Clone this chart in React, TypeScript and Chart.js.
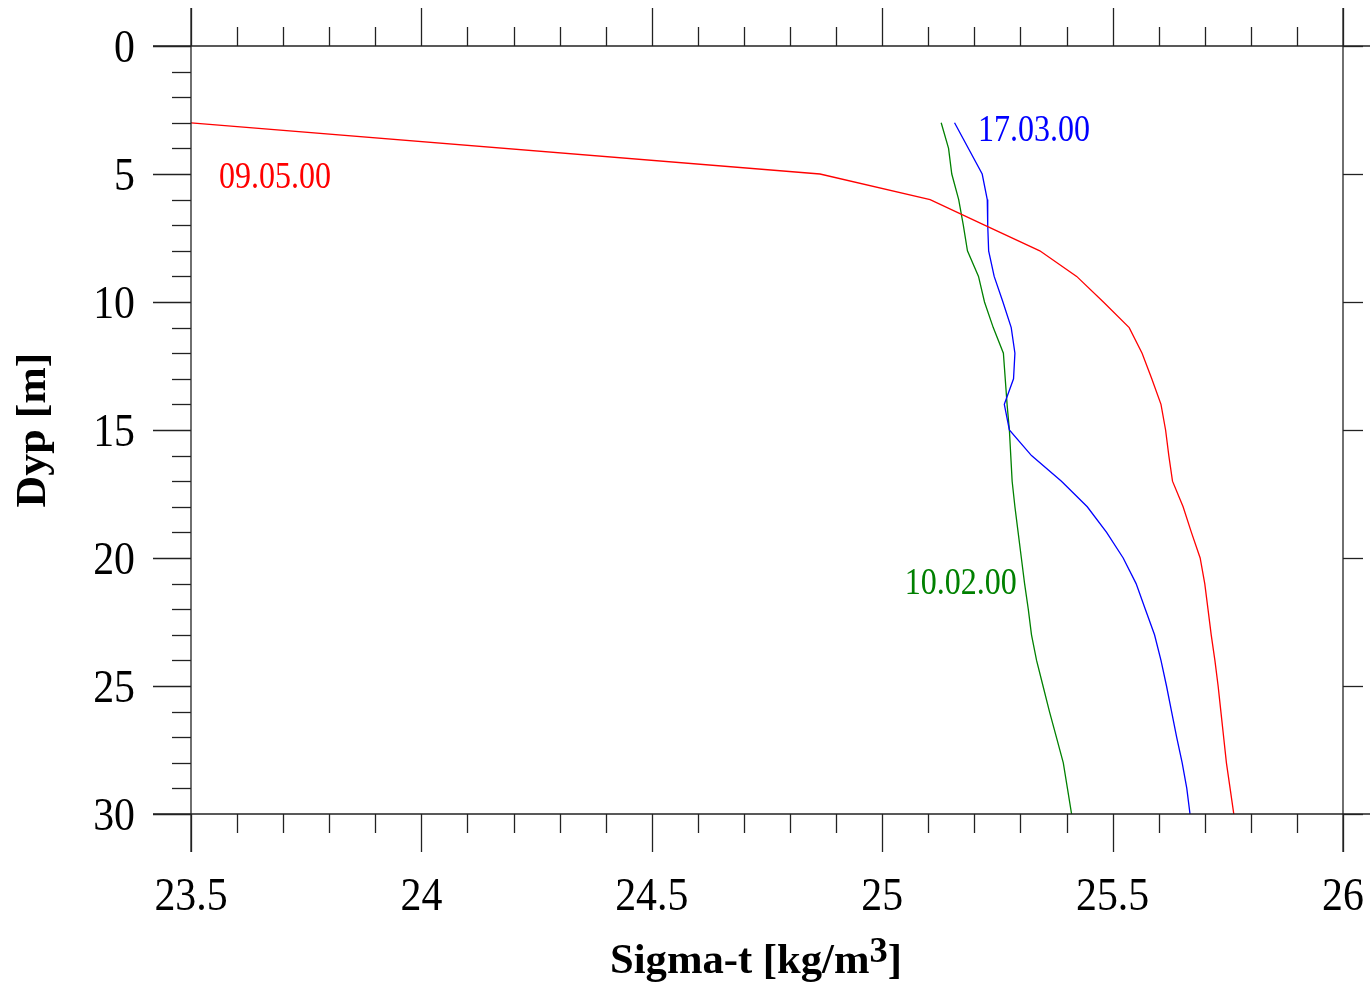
import React, { useEffect, useRef } from "react";
import { Chart, registerables } from "chart.js";

Chart.register(...registerables);

// ---- data ----
const redDepth = [3, 5, 6, 7, 8, 9, 10, 11, 12, 13, 14, 15, 16, 17, 18, 19, 20, 21, 22, 23, 24, 25, 26, 27, 28, 29, 30];
const redSigma = [23.5, 24.865, 25.104, 25.222, 25.342, 25.422, 25.48, 25.536, 25.564, 25.585, 25.605, 25.615, 25.622, 25.63, 25.653, 25.671, 25.69, 25.7, 25.707, 25.714, 25.722, 25.729, 25.735, 25.741, 25.747, 25.755, 25.763];

const blueDepth = [3, 5, 6, 7, 8, 9, 10, 11, 12, 13, 14, 15, 16, 17, 18, 19, 20, 21, 22, 23, 24, 25, 26, 27, 28, 29, 30];
const blueSigma = [25.157, 25.217, 25.228, 25.229, 25.231, 25.243, 25.262, 25.28, 25.288, 25.285, 25.265, 25.276, 25.324, 25.389, 25.445, 25.487, 25.523, 25.551, 25.571, 25.591, 25.605, 25.617, 25.628, 25.639, 25.651, 25.661, 25.668];

const greenDepth = [3, 4, 5, 6, 7, 8, 9, 10, 11, 12, 13, 14, 15, 16, 17, 18, 19, 20, 21, 22, 23, 24, 25, 26, 27, 28, 29, 30];
const greenSigma = [25.128, 25.144, 25.151, 25.166, 25.176, 25.185, 25.209, 25.222, 25.241, 25.263, 25.267, 25.271, 25.276, 25.279, 25.282, 25.288, 25.295, 25.302, 25.309, 25.317, 25.324, 25.335, 25.349, 25.363, 25.378, 25.393, 25.402, 25.411];

const seriesNames = ["09.05.00", "17.03.00", "10.02.00"];
const seriesColors = ["#ff0000", "#0000ff", "#008000"];
// label anchors (sigma, depth) for left/baseline of each series label
const labelSigma = [23.561, 25.208, 25.049];
const labelDepth = [5.55, 3.71, 21.41];

const xMajorTicks = [23.5, 24, 24.5, 25, 25.5, 26];
const xTickLabels = ["23.5", "24", "24.5", "25", "25.5", "26"];
const xMinorStep = 0.1;
const yMajorTicks = [0, 5, 10, 15, 20, 25, 30];
const yTickLabels = ["0", "5", "10", "15", "20", "25", "30"];
const yMinorStep = 1;

const xTitleMain = "Sigma-t [kg/m";
const xTitleSup = "3";
const xTitleEnd = "]";
const yTitle = "Dyp [m]";

const FONT = "'Liberation Serif', 'DejaVu Serif', serif";

function toPoints(xs: number[], ys: number[]) {
  return xs.map((x, i) => ({ x, y: ys[i] }));
}

function drawScaled(
  ctx: CanvasRenderingContext2D,
  text: string,
  x: number,
  y: number,
  font: string,
  color: string,
  align: CanvasTextAlign,
  sx: number
) {
  ctx.save();
  ctx.font = font;
  ctx.fillStyle = color;
  ctx.textAlign = align;
  ctx.textBaseline = "alphabetic";
  ctx.translate(x, y);
  ctx.scale(sx, 1);
  ctx.fillText(text, 0, 0);
  ctx.restore();
}

const framePlugin = {
  id: "framePlugin",
  afterDraw(chart: any) {
    const ctx: CanvasRenderingContext2D = chart.ctx;
    const xs = chart.scales.x;
    const ys = chart.scales.y;
    const { left, right, top, bottom } = chart.chartArea;
    const major = 38;
    const minor = 19;
    ctx.save();
    ctx.strokeStyle = "#222";
    ctx.lineWidth = 1.3;
    ctx.lineCap = "butt";
    const line = (x1: number, y1: number, x2: number, y2: number) => {
      ctx.beginPath();
      ctx.moveTo(x1, y1);
      ctx.lineTo(x2, y2);
      ctx.stroke();
    };
    // frame
    line(left - major, top, chart.width, top);
    line(left - major, bottom, chart.width, bottom);
    line(left, top - major, left, bottom + major);
    line(right, top - major, right, bottom + major);

    // x ticks (top and bottom)
    const xMin = xs.min, xMax = xs.max;
    const nx = Math.round((xMax - xMin) / xMinorStep);
    for (let i = 0; i <= nx; i++) {
      const v = xMin + i * xMinorStep;
      const px = Math.round(xs.getPixelForValue(v)) + 0.5;
      const isMajor = xMajorTicks.some((m) => Math.abs(m - v) < 1e-6);
      const len = isMajor ? major : minor;
      line(px, top, px, top - len);
      line(px, bottom, px, bottom + len);
    }
    // y ticks (left: major+minor, right: major only)
    const yMin = ys.min, yMax = ys.max;
    const ny = Math.round((yMax - yMin) / yMinorStep);
    for (let i = 0; i <= ny; i++) {
      const v = yMin + i * yMinorStep;
      const py = Math.round(ys.getPixelForValue(v)) + 0.5;
      const isMajor = yMajorTicks.some((m) => Math.abs(m - v) < 1e-6);
      line(left, py, left - (isMajor ? major : minor), py);
      if (isMajor) line(right, py, right + 20, py);
    }
    ctx.restore();

    // tick labels
    const tickFont = `47px ${FONT}`;
    xMajorTicks.forEach((v, i) => {
      drawScaled(ctx, xTickLabels[i], xs.getPixelForValue(v), bottom + 96, tickFont, "#000", "center", 0.89);
    });
    yMajorTicks.forEach((v, i) => {
      drawScaled(ctx, yTickLabels[i], left - 56, ys.getPixelForValue(v) + 16, tickFont, "#000", "right", 0.89);
    });

    // series labels
    const lblFont = `37px ${FONT}`;
    seriesNames.forEach((name, i) => {
      drawScaled(
        ctx,
        name,
        xs.getPixelForValue(labelSigma[i]),
        ys.getPixelForValue(labelDepth[i]),
        lblFont,
        seriesColors[i],
        "left",
        0.865
      );
    });

    // x title
    ctx.save();
    const mainFont = `bold 42px ${FONT}`;
    const supFont = `bold 36px ${FONT}`;
    ctx.font = mainFont;
    const w1 = ctx.measureText(xTitleMain).width;
    const w3 = ctx.measureText(xTitleEnd).width;
    ctx.font = supFont;
    const w2 = ctx.measureText(xTitleSup).width;
    const total = w1 + w2 + w3;
    const sx = 292 / total;
    const x0 = 610;
    const base = 973;
    drawScaled(ctx, xTitleMain, x0, base, mainFont, "#000", "left", sx);
    drawScaled(ctx, xTitleSup, x0 + w1 * sx, base - 11, supFont, "#000", "left", sx);
    drawScaled(ctx, xTitleEnd, x0 + (w1 + w2) * sx, base, mainFont, "#000", "left", sx);
    ctx.restore();

    // y title (rotated)
    ctx.save();
    const yFont = `bold 42px ${FONT}`;
    ctx.font = yFont;
    const wy = ctx.measureText(yTitle).width;
    const sy = 155 / wy;
    ctx.translate(45, 430);
    ctx.rotate(-Math.PI / 2);
    ctx.scale(sy, 1);
    ctx.fillStyle = "#000";
    ctx.textAlign = "center";
    ctx.textBaseline = "alphabetic";
    ctx.fillText(yTitle, 0, 0);
    ctx.restore();
  },
};

export default function App() {
  const canvasRef = useRef<HTMLCanvasElement | null>(null);

  useEffect(() => {
    const canvas = canvasRef.current;
    if (!canvas) return;
    const chart = new Chart(canvas, {
      type: "scatter",
      data: {
        datasets: [
          { label: seriesNames[0], data: toPoints(redSigma, redDepth), borderColor: seriesColors[0], showLine: true },
          { label: seriesNames[1], data: toPoints(blueSigma, blueDepth), borderColor: seriesColors[1], showLine: true },
          { label: seriesNames[2], data: toPoints(greenSigma, greenDepth), borderColor: seriesColors[2], showLine: true },
        ],
      },
      options: {
        responsive: false,
        animation: false,
        devicePixelRatio: 1,
        layout: { padding: { left: 191, top: 46, right: 27, bottom: 173 } },
        elements: {
          point: { radius: 0, hoverRadius: 0 },
          line: { borderWidth: 1.3, tension: 0, fill: false },
        },
        scales: {
          x: { type: "linear", min: 23.5, max: 26, display: false },
          y: { type: "linear", min: 0, max: 30, reverse: true, display: false },
        },
        plugins: { legend: { display: false }, tooltip: { enabled: false } },
      },
      plugins: [framePlugin],
    });
    return () => chart.destroy();
  }, []);

  return (
    <div style={{ position: "fixed", left: 0, top: 0, width: 1370, height: 987, background: "#fff" }}>
      <canvas ref={canvasRef} width={1370} height={987} style={{ display: "block" }} />
    </div>
  );
}
